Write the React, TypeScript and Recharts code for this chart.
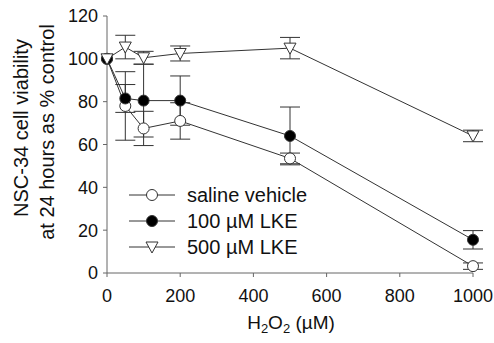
import React from 'react';
import { LineChart, Line, XAxis, YAxis, ErrorBar } from 'recharts';

// H2O2 concentrations (uM)
const doses = [0, 50, 100, 200, 500, 1000];

// viability, % of control
const saline = [100, 78, 67.5, 71, 53.5, 3.2];
const salineErr = [0, 16, 8, 8.5, 2.5, 1.5];
const lke100 = [100, 81.5, 80.5, 80.5, 64, 15.5];
const lke100Err = [0, 6.5, 17, 11.5, 13.5, 4.3];
const lke500 = [100, 105.5, 100.5, 102.5, 105, 64];
const lke500Err = [0, 5.5, 3, 3.5, 5, 2.7];

const xTicks = [0, 200, 400, 600, 800, 1000];
const yTicks = [0, 20, 40, 60, 80, 100, 120];

const legendItems = [
  { label: 'saline vehicle', kind: 'open' },
  { label: '100 \u00b5M LKE', kind: 'filled' },
  { label: '500 \u00b5M LKE', kind: 'tri' },
];

const data = doses.map((x, i) => ({
  x,
  saline: saline[i],
  salineErr: salineErr[i],
  lke100: lke100[i],
  lke100Err: lke100Err[i],
  lke500: lke500[i],
  lke500Err: lke500Err[i],
}));

const ink = '#333';
const font = '"Liberation Sans", Arial, sans-serif';

const Tri = (props: any) => {
  const { cx, cy } = props;
  if (cx == null || cy == null) return null;
  return (
    <polygon
      points={`${cx - 6},${cy - 5} ${cx + 6},${cy - 5} ${cx},${cy + 6}`}
      fill="white"
      stroke={ink}
      strokeWidth={1}
    />
  );
};

function Marker({ kind, cx, cy }: { kind: string; cx: number; cy: number }) {
  if (kind === 'tri') return <Tri cx={cx} cy={cy} />;
  return <circle cx={cx} cy={cy} r={5.5} fill={kind === 'filled' ? '#000' : 'white'} stroke={ink} strokeWidth={1} />;
}

export default function App() {
  return (
    <div style={{ position: 'absolute', left: 0, top: 0, width: 494, height: 343, background: 'white' }}>
      <LineChart width={494} height={343} data={data} margin={{ top: 16, right: 21, bottom: 20, left: 0 }}>
        <XAxis
          type="number"
          dataKey="x"
          domain={[0, 1000]}
          ticks={xTicks}
          tickSize={4}
          tickMargin={12}
          height={50}
          stroke="#666"
          tick={{ fill: '#111', fontSize: 18, fontFamily: font }}
        />
        <YAxis
          domain={[0, 120]}
          ticks={yTicks}
          width={107}
          tickSize={4}
          tickMargin={5}
          stroke="#666"
          tick={{ fill: '#111', fontSize: 18, fontFamily: font }}
        />
        <Line dataKey="saline" stroke={ink} strokeWidth={1} isAnimationActive={false}
          dot={{ r: 5.5, fill: 'white', stroke: ink, strokeWidth: 1 }}>
          <ErrorBar dataKey="salineErr" width={10} stroke={ink} strokeWidth={1} direction="y" />
        </Line>
        <Line dataKey="lke100" stroke={ink} strokeWidth={1} isAnimationActive={false}
          dot={{ r: 5.5, fill: '#000', stroke: ink, strokeWidth: 1 }}>
          <ErrorBar dataKey="lke100Err" width={10} stroke={ink} strokeWidth={1} direction="y" />
        </Line>
        <Line dataKey="lke500" stroke={ink} strokeWidth={1} isAnimationActive={false} dot={<Tri />}>
          <ErrorBar dataKey="lke500Err" width={10} stroke={ink} strokeWidth={1} direction="y" />
        </Line>
      </LineChart>
      <svg width={494} height={343} style={{ position: 'absolute', left: 0, top: 0, pointerEvents: 'none' }}>
        <g fontFamily={font} fill="#111">
          <text transform="translate(28,128) rotate(-90)" textAnchor="middle" fontSize={20}>NSC-34 cell viability</text>
          <text transform="translate(54,132) rotate(-90)" textAnchor="middle" fontSize={20}>at 24 hours as % control</text>
          <text x={291} y={329} textAnchor="middle" fontSize={19}>
            H<tspan fontSize={13} dy={4}>2</tspan><tspan dy={-4}>O</tspan><tspan fontSize={13} dy={4}>2</tspan><tspan dy={-4}>{' (\u00b5M)'}</tspan>
          </text>
          {legendItems.map((it, i) => {
            const y = 195 + i * 26;
            return (
              <g key={it.label}>
                <line x1={129} x2={175} y1={y} y2={y} stroke={ink} strokeWidth={1} />
                <Marker kind={it.kind} cx={152} cy={y} />
                <text x={187} y={y + 7} fontSize={20}>{it.label}</text>
              </g>
            );
          })}
        </g>
      </svg>
    </div>
  );
}
